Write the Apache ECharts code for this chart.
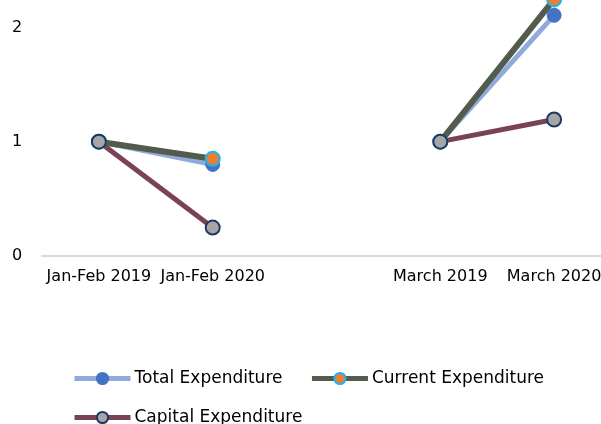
<!DOCTYPE html>
<html>
<head>
<meta charset="utf-8">
<script src="https://cdn.jsdelivr.net/npm/echarts@6/dist/echarts.min.js"></script>
<style>html,body{margin:0;padding:0;background:#fff;}#c{width:601px;height:424px;}</style>
</head>
<body>
<div id="c"></div>
<script>
const categories = ['Jan-Feb 2019', 'Jan-Feb 2020', '', 'March 2019', 'March 2020'];
const totalExpenditure = [1, 0.80, null, 1, 2.11];
const currentExpenditure = [1, 0.85, null, 1, 2.25];
const capitalExpenditure = [1, 0.245, null, 1, 1.195];
const yTicks = [0, 1, 2, 3];

const font = 'DejaVu Sans';
const chart = echarts.init(document.getElementById('c'), null, {renderer: 'canvas'});
chart.setOption({
  animation: false,
  backgroundColor: '#ffffff',
  textStyle: {fontFamily: font},
  grid: {left: 42, top: -86, width: 569, height: 341.5, containLabel: false, outerBoundsMode: 'none'},
  xAxis: {
    type: 'category',
    data: categories,
    boundaryGap: true,
    axisLine: {show: true, lineStyle: {color: '#d9d9d9', width: 2}},
    axisTick: {show: false},
    axisLabel: {color: '#000', fontFamily: font, fontSize: 16, margin: 13, interval: 0}
  },
  yAxis: {
    type: 'value',
    min: yTicks[0],
    max: yTicks[yTicks.length - 1],
    interval: 1,
    axisLine: {show: false},
    axisTick: {show: false},
    splitLine: {show: false},
    axisLabel: {
      color: '#000', fontFamily: font, fontSize: 16, margin: 30, align: 'left',
      formatter: v => (v === 3 ? '' : String(v))
    }
  },
  legend: [
    {
      data: ['Total Expenditure', 'Current Expenditure'],
      left: 72, top: 370, padding: 0, itemWidth: 56, itemHeight: 14, itemGap: 27,
      lineStyle: {width: 5},
      textStyle: {color: '#000', fontFamily: font, fontSize: 17, padding: [0, 0, 0, -1]}
    },
    {
      data: ['Capital Expenditure'],
      left: 72, top: 409, padding: 0, itemWidth: 56, itemHeight: 14, itemGap: 27,
      lineStyle: {width: 5},
      textStyle: {color: '#000', fontFamily: font, fontSize: 17, padding: [0, 0, 0, -1]}
    }
  ],
  series: [
    {
      name: 'Total Expenditure', type: 'line', data: totalExpenditure,
      connectNulls: false, symbol: 'circle', symbolSize: 14,
      lineStyle: {color: '#8faadc', width: 5},
      itemStyle: {color: '#4472c4', borderColor: '#4472c4', borderWidth: 1}
    },
    {
      name: 'Current Expenditure', type: 'line', data: currentExpenditure,
      connectNulls: false, symbol: 'circle', symbolSize: 14,
      lineStyle: {color: '#535b4c', width: 6},
      itemStyle: {color: '#ed7d31', borderColor: '#1cb5f0', borderWidth: 2}
    },
    {
      name: 'Capital Expenditure', type: 'line', data: capitalExpenditure,
      connectNulls: false, symbol: 'circle', symbolSize: 14,
      lineStyle: {color: '#7a4256', width: 5},
      itemStyle: {color: '#a6a6a6', borderColor: '#1f3864', borderWidth: 2}
    }
  ]
});
</script>
</body>
</html>
